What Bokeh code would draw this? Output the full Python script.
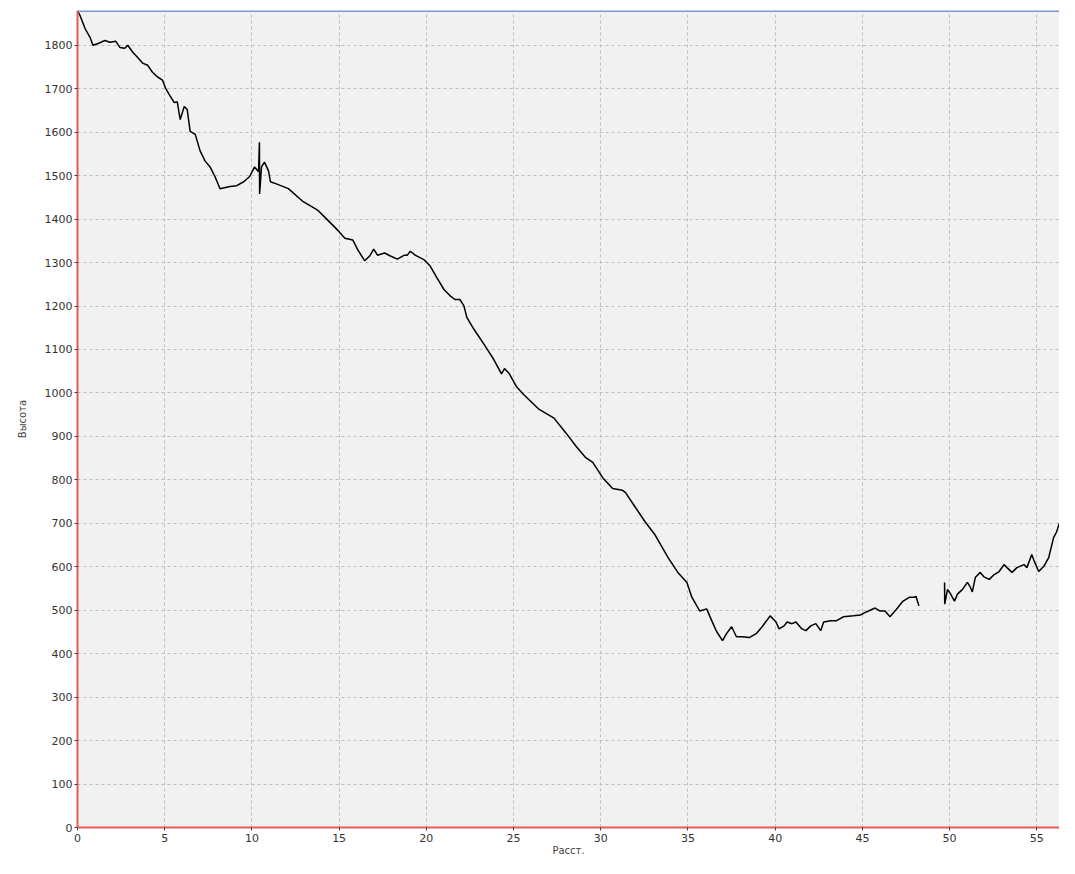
import math
from bokeh.plotting import figure
from bokeh.models import FixedTicker, Range1d, Span
from bokeh.embed import file_html
from bokeh.resources import INLINE

NAN = float("nan")

distance = [0.0, 0.15, 0.44, 0.72, 0.89, 1.18, 1.57, 1.86, 2.20, 2.43, 2.71, 2.88, 3.17, 3.45,
            3.73, 4.02, 4.30, 4.59, 4.87, 5.04, 5.27, 5.55, 5.72, 5.89, 6.12, 6.29, 6.46, 6.75,
            7.03, 7.31, 7.60, 7.88, 8.17, 8.74, 9.13, 9.53, 9.87, 10.15, 10.38, 10.43, 10.44,
            10.55, 10.72, 10.95, 11.06, 11.40, 12.09, 12.94, 13.79, 14.36, 14.93, 15.33, 15.78,
            16.07, 16.47, 16.75, 16.98, 17.20, 17.60, 17.94, 18.34, 18.74, 18.91, 19.08, 19.36,
            19.88, 20.22, 20.61, 21.01, 21.35, 21.64, 21.92, 22.15, 22.32, 22.72, 23.29, 23.85,
            24.31, 24.48, 24.76, 25.16, 25.56, 26.47, 27.32, 28.00, 28.57, 29.14, 29.54, 30.11,
            30.68, 31.24, 31.41, 31.98, 32.55, 33.12, 33.86, 34.42, 34.94, 35.22, 35.68, 36.07,
            36.36, 36.64, 36.98, 37.21, 37.50, 37.78, 38.12, 38.51, 38.91, 39.25, 39.71, 40.05,
            40.22, 40.51, 40.68, 40.96, 41.19, 41.53, 41.76, 42.04, 42.33, 42.61, 42.78, 43.18,
            43.52, 43.92, 44.48, 44.88, 45.22, 45.73, 46.02, 46.30, 46.58, 46.93, 47.33, 47.72,
            48.01, 48.07, 48.24,
            NAN,
            49.71, 49.72, 49.88, 50.06, 50.28, 50.45, 50.74, 51.02, 51.19, 51.30, 51.48, 51.76,
            51.99, 52.27, 52.56, 52.84, 53.12, 53.29, 53.58, 53.86, 54.26, 54.43, 54.71, 54.88,
            55.11, 55.40, 55.68, 55.96, 56.13, 56.30, 56.42, 56.70]

altitude = [1880, 1868, 1838, 1818, 1800, 1804, 1811, 1807, 1809, 1795, 1793, 1800, 1784, 1772,
            1759, 1754, 1738, 1727, 1720, 1702, 1686, 1668, 1670, 1629, 1659, 1652, 1602, 1595,
            1557, 1534, 1520, 1498, 1470, 1475, 1477, 1486, 1498, 1520, 1509, 1577, 1458,
            1520, 1531, 1511, 1486, 1481, 1470, 1440, 1420, 1397, 1374, 1356, 1352,
            1329, 1304, 1315, 1331, 1317, 1322, 1315, 1308, 1317, 1317, 1326, 1317,
            1306, 1292, 1265, 1238, 1224, 1215, 1215, 1201, 1174, 1147, 1113, 1078,
            1044, 1056, 1044, 1015, 997, 962, 942, 908, 878, 851, 840, 805,
            780, 776, 771, 737, 703, 673, 621, 587, 564, 530, 498, 503,
            476, 451, 430, 446, 462, 439, 439, 437, 446, 462, 487, 473,
            457, 464, 473, 469, 473, 457, 453, 464, 469, 453, 473, 476,
            476, 485, 487, 489, 496, 505, 498, 498, 485, 501, 521, 530,
            530, 532, 510,
            NAN,
            564, 514, 548, 537, 521, 537, 548, 564, 553, 542, 576, 587,
            576, 571, 582, 589, 605, 598, 587, 598, 605, 598, 628, 610,
            589, 601, 621, 667, 680, 701, 667, 655]

x_ticks = [0, 5, 10, 15, 20, 25, 30, 35, 40, 45, 50, 55]
y_ticks = [0, 100, 200, 300, 400, 500, 600, 700, 800, 900, 1000, 1100, 1200, 1300,
           1400, 1500, 1600, 1700, 1800]
x_label = "Расст."
y_label = "Высота"
x_max = 56.3
y_max = 1880

p = figure(width=1059, height=858, output_backend="svg", toolbar_location=None,
           x_range=Range1d(0, x_max), y_range=Range1d(0, y_max),
           min_border_left=77, min_border_top=10, min_border_right=0, min_border_bottom=30)

p.background_fill_color = "#f1f1f1"
p.border_fill_color = "white"
p.outline_line_color = None

p.line(distance, altitude, line_color="black", line_width=1.5)

for ax, ticks in ((p.xaxis, x_ticks), (p.yaxis, y_ticks)):
    ax.ticker = FixedTicker(ticks=ticks)
    ax.axis_line_color = "#e35b5b"
    ax.axis_line_width = 2
    ax.major_tick_line_color = "#444444"
    ax.major_tick_in = 0
    ax.major_tick_out = 3
    ax.minor_tick_line_color = None
    ax.major_label_text_font = "DejaVu Sans"
    ax.major_label_text_font_size = "11px"
    ax.major_label_text_color = "#333333"
    ax.axis_label_text_font = "DejaVu Sans"
    ax.axis_label_text_font_size = "10px"
    ax.axis_label_text_font_style = "normal"
    ax.axis_label_text_color = "#444444"

p.xaxis.axis_label = x_label
p.yaxis.axis_label = y_label
p.xaxis.major_label_standoff = 3
p.xaxis.axis_label_standoff = 0
p.yaxis.major_label_standoff = 2
p.yaxis.axis_label_standoff = 14

for g in (p.xgrid, p.ygrid):
    g.grid_line_color = "#bdbdbd"
    g.grid_line_dash = "3 3"
    g.grid_line_width = 1
p.xgrid.ticker = FixedTicker(ticks=x_ticks)
p.ygrid.ticker = FixedTicker(ticks=y_ticks)

p.add_layout(Span(location=y_max, dimension="width", line_color="#7f9bd6", line_width=3))

open("out.html", "w").write(file_html(p, INLINE))
